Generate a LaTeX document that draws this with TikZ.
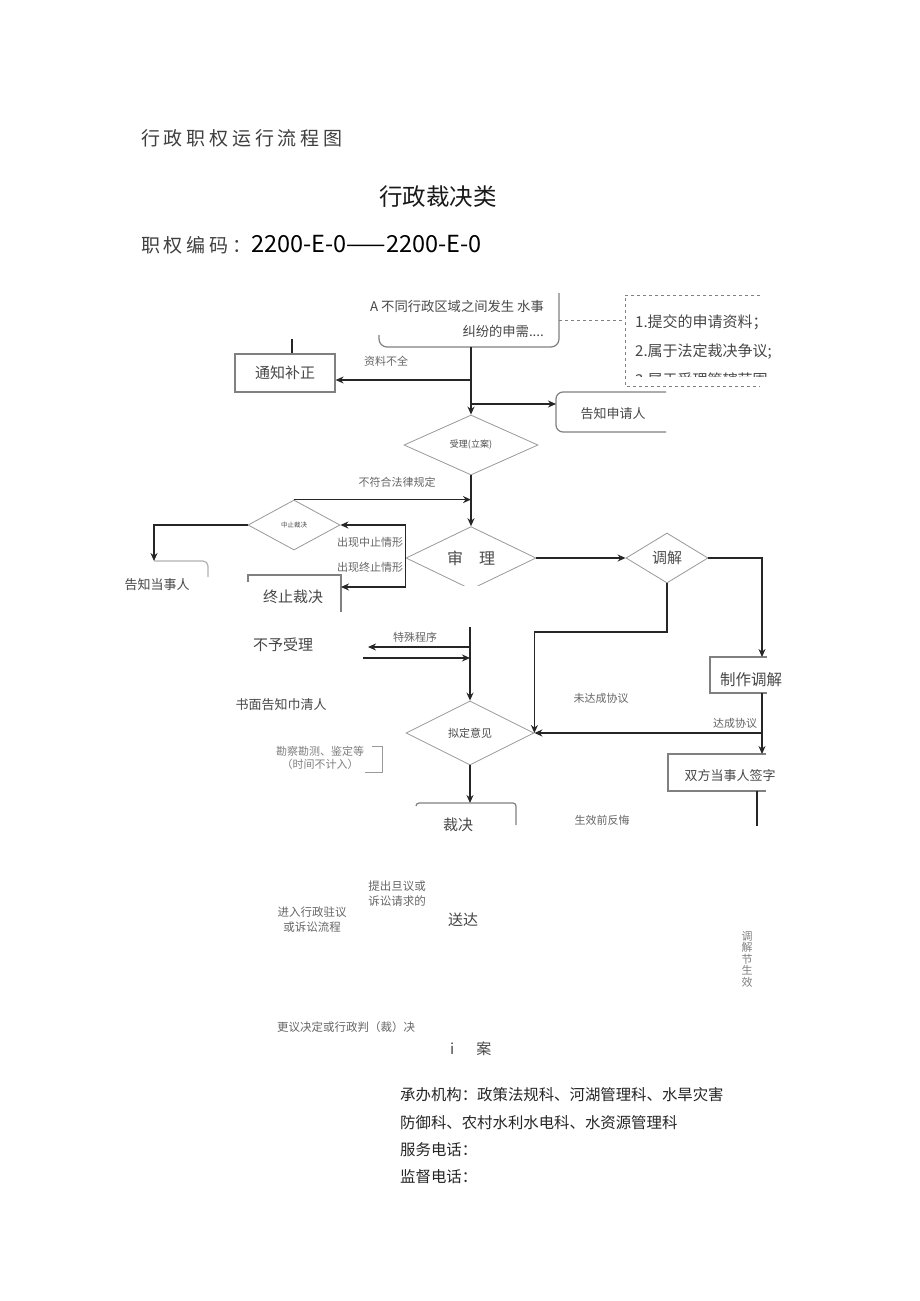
\documentclass[tikz,border=0pt]{standalone}
\usepackage{fontspec}
\setmainfont{Noto Sans CJK SC}
\newfontfamily\spacedfont[LetterSpace=20]{Noto Sans CJK SC}
\usetikzlibrary{shapes.geometric,arrows.meta}

\tikzset{
  flow/.style={draw=black!85,line width=1.7pt,-{Stealth[length=8pt,width=7pt]}},
  plain/.style={draw=black!85,line width=1.7pt},
  dia/.style={diamond,draw=black!40,line width=0.8pt,inner sep=0pt,text=black!70},
  boxline/.style={draw=black!50,line width=1.2pt},
  lab/.style={font=\fontsize{11}{14}\selectfont,text=black!60,inner sep=0pt},
  txt/.style={text=black!72,inner sep=0pt},
  hole/.style={inner sep=0pt,outer sep=0pt},
}

\begin{document}
\begin{tikzpicture}[x=1pt,y=-1pt]
\useasboundingbox[fill=white] (0,0) rectangle (920,1301);

\node[anchor=west,inner sep=0pt,text=black!75,font=\spacedfont\fontsize{19}{22}\selectfont] (heading) at (141,138) {行政职权运行流程图};
\node[inner sep=0pt,text=black!90,font=\fontsize{23.5}{26}\selectfont] (category) at (438,197) {行政裁决类};
\node[anchor=west,inner sep=0pt] (code) at (141,245) {{\spacedfont\fontsize{19}{22}\selectfont\color{black!75}职权编码：}{\fontsize{23.5}{26}\selectfont 2200-E-0——2200-E-0}};

\node[hole,minimum width=180,minimum height=54] (reqbox) at (469,320) {};
\node[txt,anchor=east,align=right,font=\fontsize{13.3}{25}\selectfont] (req) at (544,319) {A 不同行政区域之间发生 水事\\纠纷的申需....};
\draw[boxline,rounded corners=8pt] ([yshift=12pt]reqbox.south west) -- (reqbox.south west) -- (reqbox.south east) -- (reqbox.north east);

\node[hole,minimum width=135,minimum height=91] (cond) at (692.5,340.5) {};
\draw[dashed,draw=black!50,line width=0.9pt] (cond.north east) -- (cond.north west) -- (cond.south west) -- (cond.south east);
\draw[dashed,draw=black!50,line width=0.9pt] (reqbox.east) -- (reqbox.east -| cond.west);
\begin{scope}
\clip (cond.north west) rectangle (776,376);
\node[txt,anchor=north west,align=left,font=\fontsize{15}{29}\selectfont] (condtxt) at ([xshift=10pt,yshift=-19.5pt]cond.north west) {1.提交的申请资料；\\2.属于法定裁决争议;\\3.属于受理管辖范围};
\end{scope}

\node[dia,minimum width=134,minimum height=60,font=\fontsize{9}{10}\selectfont] (shouli) at (471,445) {受理(立案)};
\node[boxline,draw,txt,minimum width=100,minimum height=38,font=\fontsize{15}{17}\selectfont] (buzheng) at (285,373) {通知补正};
\node[hole,minimum width=110,minimum height=40] (gaozhi) at (611,412) {};
\node[txt,font=\fontsize{13}{15}\selectfont] (gaozhitxt) at (613,414) {告知申请人};
\draw[boxline,rounded corners=7pt] (gaozhi.north east) -- (gaozhi.north west) -- (gaozhi.south west) -- (gaozhi.south east);
\draw[plain] ([xshift=7pt]buzheng.north) -- ++(0,-14);

\coordinate (fork1) at (shouli.north |- 0,380);
\coordinate (fork2) at (shouli.north |- 0,404);
\draw[flow] (reqbox.south -| shouli.north) -- (shouli.north);
\draw[flow] (fork1) -- (fork1 -| buzheng.east);
\draw[flow] (fork2) -- (fork2 -| gaozhi.west);
\node[lab] (l1) at (386,361) {资料不全};

\begin{scope}
\clip (0,0) rectangle (920,585);
\node[dia,minimum width=130,minimum height=62,font=\fontsize{16}{18}\selectfont] (shenli) at (471,558) {审\hspace{16pt}理};
\end{scope}
\node[dia,minimum width=92,minimum height=50,font=\fontsize{6.5}{7}\selectfont] (zhongzhi) at (294,525) {中止裁决};
\node[hole,minimum width=93,minimum height=44] (zhongjue) at (294.5,597) {};
\node[txt,font=\fontsize{15}{17}\selectfont] (zhongjuetxt) at (293,597) {终止裁决};
\draw[boxline] ([yshift=-7pt]zhongjue.north west) -- (zhongjue.north west) -- (zhongjue.north east) -- ([yshift=7pt]zhongjue.south east);
\node[hole,minimum width=54,minimum height=36] (dangbox) at (181,579) {};
\node[txt,font=\fontsize{13}{15}\selectfont] (dangren) at (157,585) {告知当事人};
\draw[boxline,draw=black!30,rounded corners=5pt] (dangbox.north west) -- (dangbox.north east) -- ++(0,16);

\draw[flow] (shouli.south) -- (shenli.north);
\draw[flow] (zhongzhi.north) -- (zhongzhi.north -| shenli.north);
\node[lab] (l2) at (397,482) {不符合法律规定};
\draw[flow] (zhongzhi.west) -| (dangbox.north west);
\draw[flow] (shenli.west) |- (zhongzhi.east);
\draw[flow] (shenli.west) |- ([yshift=10pt]zhongjue.east);
\node[lab] (l3) at (370,542) {出现中止情形};
\node[lab] (l4) at (370,567) {出现终止情形};

\node[txt,font=\fontsize{15}{17}\selectfont] (buyu) at (283,645) {不予受理};
\node[txt,font=\fontsize{13}{15}\selectfont] (shumian) at (281,705) {书面告知巾清人};

\node[dia,minimum width=128,minimum height=64,font=\fontsize{11}{12}\selectfont] (nining) at (470,733) {拟定意见};
\coordinate (vtop) at (nining.north |- 0,627);
\coordinate (tsl) at (368,647);
\coordinate (tsr) at (363,658);
\draw[flow] (vtop) -- (nining.north);
\draw[flow] (vtop |- tsl) -- (tsl);
\draw[flow] (tsr) -- (tsr -| vtop);
\node[lab] (l5) at (415,637) {特殊程序};

\node[lab,align=center,text=black!50,font=\fontsize{11}{13}\selectfont] (kancha) at (320,758) {勘察勘测、鉴定等\\（时间不计入）};
\draw[boxline,draw=black!40,line width=0.9pt] ([xshift=8pt]kancha.north east) -- ++(10,0) |- ([xshift=1pt,yshift=-3pt]kancha.south east);

\node[hole,minimum width=100,minimum height=44] (caijuebox) at (466,825) {};
\node[txt,font=\fontsize{15}{17}\selectfont] (caijue) at (458,825) {裁决};
\draw[flow] (nining.south) -- (nining.south |- caijuebox.north);
\draw[boxline,rounded corners=3pt] ([yshift=-3pt]caijuebox.north west) -- (caijuebox.north west) -- (caijuebox.north east) -- ([yshift=22pt]caijuebox.south east);

\node[dia,minimum width=82,minimum height=50,font=\fontsize{15}{17}\selectfont] (tiaojie) at (667,558) {调解};
\draw[flow] (shenli.east) -- (tiaojie.west);

\node[hole,minimum width=57,minimum height=36] (zhizuo) at (738.5,675) {};
\node[txt,font=\fontsize{15.5}{17}\selectfont] (zhizuotxt) at (751,680) {制作调解};
\draw[boxline] (zhizuo.north east) -- (zhizuo.north west) -- (zhizuo.south west) -- (zhizuo.south east);
\coordinate (zz) at (762,657);
\draw[flow] (tiaojie.east) -| (zz);

\node[hole,minimum width=98,minimum height=37] (qianzi) at (717,772.5) {};
\node[txt,font=\fontsize{13}{15}\selectfont] (qianzitxt) at (730,776) {双方当事人签字};
\draw[boxline] (qianzi.north east) -- (qianzi.north west) -- (qianzi.south west) -- (qianzi.south east);
\draw[flow] (zhizuo.south -| zz) -- (qianzi.north -| zz);
\coordinate (dc) at (zz |- nining.east);
\draw[flow] (dc) -- (nining.east);
\coordinate (wd) at (tiaojie.south |- 0,632);
\draw[flow] (tiaojie.south) -- (wd) -| (nining.east);
\coordinate (qz) at (757,791);
\draw[plain] (qz) -- ++(0,35);
\node[lab] (l6) at (601,698) {未达成协议};
\node[lab] (l7) at (735,723) {达成协议};
\node[lab] (l8) at (602,820) {生效前反悔};

\node[lab,align=center,font=\fontsize{11.5}{15}\selectfont] (yiyi) at (397,894) {提出旦议或\\诉讼请求的};
\node[lab,align=center,font=\fontsize{11.5}{15}\selectfont] (jinru) at (312,920) {进入行政驻议\\或诉讼流程};
\node[txt,font=\fontsize{15}{17}\selectfont] (songda) at (463,920) {送达};
\node[lab,align=center,text=black!50,font=\fontsize{11}{11.5}\selectfont] (shengxiao) at (747,959) {调\\解\\节\\生\\效};
\node[lab,font=\fontsize{11.5}{13}\selectfont] (gengyi) at (346,1027) {更议决定或行政判（裁）决};
\node[txt,anchor=west,font=\fontsize{15}{17}\selectfont] (jiean) at (450,1049) {i\hspace{22pt}案};

\node[anchor=north west,align=left,inner sep=0pt,text=black!85,font=\fontsize{15.4}{27.3}\selectfont] (footer) at (400,1087.5) {承办机构：政策法规科、河湖管理科、水旱灾害\\防御科、农村水利水电科、水资源管理科\\服务电话：\\监督电话：};
\end{tikzpicture}
\end{document}
